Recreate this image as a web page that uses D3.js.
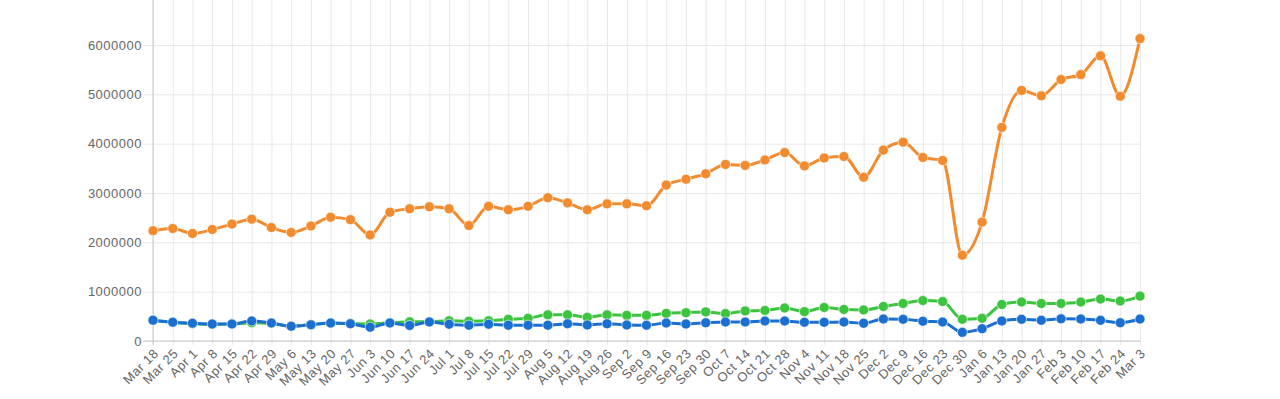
<!DOCTYPE html>
<html>
<head>
<meta charset="utf-8">
<script src="https://cdn.jsdelivr.net/npm/d3@7"></script>
<style>
  body { margin: 0; background: #fff; }
  svg text { font-family: "Liberation Sans", Arial, sans-serif; font-size: 13px; fill: #666; letter-spacing: 0.5px; }
</style>
</head>
<body>
<div id="chart"></div>
<script>
// weekly labels
var weeks = ['Mar 18', 'Mar 25', 'Apr 1', 'Apr 8', 'Apr 15', 'Apr 22', 'Apr 29', 'May 6', 'May 13', 'May 20', 'May 27',
  'Jun 3', 'Jun 10', 'Jun 17', 'Jun 24', 'Jul 1', 'Jul 8', 'Jul 15', 'Jul 22', 'Jul 29', 'Aug 5', 'Aug 12', 'Aug 19', 'Aug 26',
  'Sep 2', 'Sep 9', 'Sep 16', 'Sep 23', 'Sep 30', 'Oct 7', 'Oct 14', 'Oct 21', 'Oct 28', 'Nov 4', 'Nov 11', 'Nov 18', 'Nov 25',
  'Dec 2', 'Dec 9', 'Dec 16', 'Dec 23', 'Dec 30', 'Jan 6', 'Jan 13', 'Jan 20', 'Jan 27', 'Feb 3', 'Feb 10', 'Feb 17', 'Feb 24', 'Mar 3'];

var orangeValues = [2236000, 2280000, 2180000, 2260000, 2370000, 2470000, 2300000, 2200000, 2330000, 2510000, 2460000,
  2150000, 2610000, 2680000, 2720000, 2680000, 2340000, 2730000, 2660000, 2730000, 2905000, 2800000, 2660000, 2780000,
  2780000, 2740000, 3160000, 3280000, 3390000, 3580000, 3560000, 3670000, 3820000, 3550000, 3710000, 3740000, 3320000,
  3870000, 4030000, 3720000, 3660000, 1740000, 2410000, 4330000, 5080000, 4970000, 5300000, 5400000, 5780000, 4960000, 6130000];

var greenValues = [420000, 380000, 350000, 335000, 345000, 370000, 360000, 300000, 330000, 360000, 355000,
  345000, 370000, 390000, 390000, 410000, 400000, 410000, 440000, 460000, 530000, 530000, 480000, 530000,
  520000, 520000, 560000, 575000, 590000, 555000, 610000, 620000, 670000, 595000, 680000, 640000, 630000,
  700000, 760000, 820000, 800000, 440000, 460000, 740000, 790000, 760000, 760000, 790000, 850000, 810000, 910000];

var blueValues = [420000, 380000, 360000, 345000, 345000, 405000, 365000, 300000, 330000, 365000, 350000,
  280000, 365000, 315000, 385000, 340000, 320000, 340000, 320000, 320000, 320000, 350000, 325000, 350000,
  325000, 320000, 365000, 345000, 370000, 385000, 385000, 405000, 405000, 380000, 380000, 385000, 360000,
  445000, 440000, 400000, 385000, 175000, 250000, 405000, 440000, 420000, 450000, 445000, 420000, 370000, 445000];

var yTicks = [0, 1000000, 2000000, 3000000, 4000000, 5000000, 6000000];

var w = 1280;
var h = 399;
var left = 153, right = 1140, bottom = 341;

var svg = d3.select('#chart')
  .append('svg')
    .attr('width', w)
    .attr('height', h);

var xScale = d3.scalePoint()
  .domain(weeks)
  .range([left, right]);

// top of the plot sits just above the window (7000000)
var yScale = d3.scaleLinear()
  .domain([0, 7000000])
  .range([bottom, bottom - 7 * 49.33]);

// grid lines
svg.append('g')
  .attr('class', 'y-grid')
  .attr('transform', 'translate(' + left + ',0)')
  .call(d3.axisLeft(yScale).tickValues(yTicks).tickSize(-(right - left)).tickFormat(''))
  .call(g => g.select('.domain').remove())
  .call(g => g.selectAll('line').attr('stroke', '#e8e8e8').attr('x1', -10));

svg.append('g')
  .attr('class', 'x-grid')
  .attr('transform', 'translate(0,' + bottom + ')')
  .call(d3.axisBottom(xScale).tickSize(-bottom).tickFormat(''))
  .call(g => g.select('.domain').remove())
  .call(g => g.selectAll('line').attr('stroke', '#e8e8e8').attr('y1', 4));

// axis lines
svg.append('line')
  .attr('x1', left).attr('x2', left)
  .attr('y1', 0).attr('y2', bottom + 4)
  .attr('stroke', '#c8c8c8');

svg.append('line')
  .attr('x1', left - 10).attr('x2', right)
  .attr('y1', bottom).attr('y2', bottom)
  .attr('stroke', '#c8c8c8');

// y labels
svg.append('g')
  .selectAll('text')
  .data(yTicks)
  .enter()
  .append('text')
    .attr('x', 142)
    .attr('y', d => yScale(d))
    .attr('dy', '0.35em')
    .attr('text-anchor', 'end')
    .text(d => d);

// x labels, rotated
svg.append('g')
  .selectAll('text')
  .data(weeks)
  .enter()
  .append('text')
    .attr('text-anchor', 'end')
    .attr('dy', '0.35em')
    .attr('transform', d => 'translate(' + (xScale(d) + 3) + ',' + (bottom + 10) + ') rotate(-45)')
    .text(d => d);

var series = [
  { name: 'orange', values: orangeValues, color: '#f28a2e' },
  { name: 'green', values: greenValues, color: '#3cc43f' },
  { name: 'blue', values: blueValues, color: '#1a6fd0' }
];

var line = d3.line()
  .x((d, i) => xScale(weeks[i]))
  .y(d => yScale(d))
  .curve(d3.curveMonotoneX);

series.forEach(function(s) {
  var g = svg.append('g').attr('class', 'series-' + s.name);

  g.append('path')
    .attr('d', line(s.values))
    .attr('fill', 'none')
    .attr('stroke', s.color)
    .attr('stroke-width', 3);

  g.selectAll('circle')
    .data(s.values)
    .enter()
    .append('circle')
      .attr('cx', (d, i) => xScale(weeks[i]))
      .attr('cy', d => yScale(d))
      .attr('r', 5)
      .attr('fill', s.color)
      .attr('stroke', 'rgba(255,255,255,0.6)')
      .attr('stroke-width', 1);
});
</script>
</body>
</html>
